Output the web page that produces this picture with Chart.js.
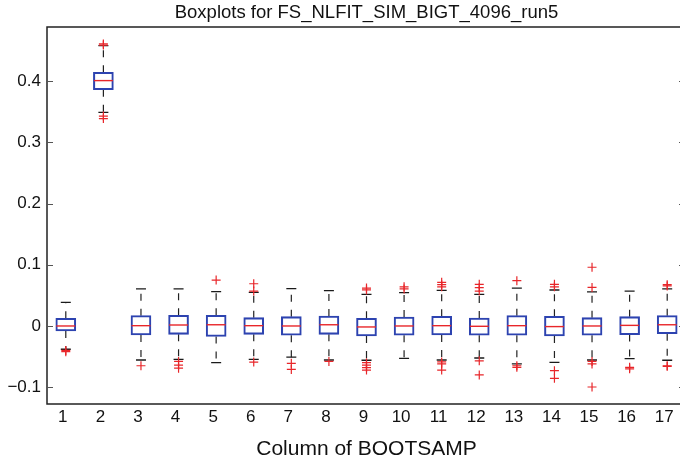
<!DOCTYPE html>
<html><head><meta charset="utf-8">
<script src="https://cdn.jsdelivr.net/npm/chart.js@4.4.1/dist/chart.umd.min.js"></script>
<style>
html,body{margin:0;padding:0;overflow:hidden;background:#fff;width:680px;height:461px}
#wrap{width:690px;height:461px;position:relative}
</style></head>
<body><div id="wrap"><canvas id="c" width="690" height="461"></canvas></div>
<script>
const categories = ['1','2','3','4','5','6','7','8','9','10','11','12','13','14','15','16','17'];
const q1Values     = [-0.0080, 0.3860, -0.0147, -0.0136, -0.0170, -0.0136, -0.0152, -0.0136, -0.0163, -0.0152, -0.0147, -0.0152, -0.0152, -0.0163, -0.0152, -0.0141, -0.0125];
const medianValues = [ 0.0000, 0.4010,  0.0005,  0.0016,  0.0020,  0.0005,  0.0000,  0.0020, -0.0016,  0.0000,  0.0005, -0.0005,  0.0005, -0.0010,  0.0000,  0.0010,  0.0020];
const q3Values     = [ 0.0126, 0.4145,  0.0169,  0.0175,  0.0175,  0.0136,  0.0152,  0.0163,  0.0126,  0.0147,  0.0158,  0.0131,  0.0169,  0.0158,  0.0136,  0.0152,  0.0169];
const whiskerLow   = [-0.0380, 0.3490, -0.0556, -0.0545, -0.0600, -0.0545, -0.0510, -0.0556, -0.0560, -0.0530, -0.0556, -0.0523, -0.0620, -0.0594, -0.0556, -0.0534, -0.0560];
const whiskerHigh  = [ 0.0387, 0.4580,  0.0605,  0.0605,  0.0560,  0.0550,  0.0610,  0.0577,  0.0518,  0.0545,  0.0583,  0.0518,  0.0620,  0.0588,  0.0556,  0.0570,  0.0605];
const outlierValues = [
  [-0.040, -0.042],
  [0.459, 0.461, 0.343, 0.339],
  [-0.065],
  [-0.058, -0.064, -0.069],
  [0.075],
  [0.069, 0.057, -0.059],
  [-0.061, -0.071],
  [-0.058],
  [0.062, 0.059, -0.060, -0.064, -0.068, -0.072],
  [0.064, 0.0605],
  [0.0713, 0.0675, 0.064, -0.0588, -0.062, -0.072],
  [0.068, 0.0626, 0.057, -0.057, -0.080],
  [0.074, -0.065, -0.0675],
  [0.068, 0.064, -0.073, -0.0855],
  [0.063, 0.096, -0.058, -0.062, -0.0997],
  [-0.0675, -0.070],
  [0.0654, 0.0675, -0.065, -0.066]
];
const yTickValues = [-0.1, 0, 0.1, 0.2, 0.3, 0.4];
const titleText = 'Boxplots for FS_NLFIT_SIM_BIGT_4096_run5';
const xTitle = 'Column of BOOTSAMP';

Chart.defaults.font.family = '"Liberation Sans", Arial, Helvetica, sans-serif';
Chart.defaults.color = '#111';

const whiskerData = [];
categories.forEach((c, i) => {
  whiskerData.push({x: c, y: q3Values[i]}, {x: c, y: whiskerHigh[i]}, {x: c, y: null});
  whiskerData.push({x: c, y: q1Values[i]}, {x: c, y: whiskerLow[i]}, {x: c, y: null});
});
const capData = [];
categories.forEach((c, i) => { capData.push({x: c, y: whiskerLow[i]}, {x: c, y: whiskerHigh[i]}); });
const outlierData = [];
categories.forEach((c, i) => outlierValues[i].forEach(v => outlierData.push({x: c, y: v})));

const frame = {
  id: 'frame',
  afterDraw(chart) {
    const {ctx, chartArea: a, scales: {y}} = chart;
    ctx.save();
    ctx.strokeStyle = '#222';
    ctx.lineWidth = 1.5;
    ctx.strokeRect(a.left, a.top, a.right - a.left, a.bottom - a.top);
    ctx.lineWidth = 1;
    ctx.beginPath();
    y.ticks.forEach((t, i) => {
      const py = Math.round(y.getPixelForTick(i)) + 0.5;
      ctx.moveTo(a.left, py); ctx.lineTo(a.left + 6, py);
      ctx.moveTo(a.right - 7, py); ctx.lineTo(a.right, py);
    });
    ctx.strokeStyle = '#555';
    ctx.stroke();
    ctx.restore();
  }
};

new Chart(document.getElementById('c'), {
  type: 'bar',
  data: {
    labels: categories,
    datasets: [
      { type: 'line', label: 'outliers', data: outlierData, showLine: false, pointStyle: 'cross',
        pointRadius: 4.5, pointBorderColor: '#e8262a', pointBorderWidth: 1.2, order: 0 },
      { type: 'line', label: 'caps', data: capData, showLine: false, pointStyle: 'line',
        pointRadius: 5, pointBorderColor: '#1a1a1a', pointBorderWidth: 1.3, order: 1 },
      { type: 'line', label: 'median', data: medianValues, showLine: false, pointStyle: 'line',
        pointRadius: 9.5, pointBorderColor: '#e8262a', pointBorderWidth: 1.4, order: 2 },
      { type: 'bar', label: 'box', data: categories.map((c, i) => [q1Values[i], q3Values[i]]),
        backgroundColor: 'rgba(0,0,0,0)', borderColor: '#2d43b0', borderWidth: 1.4, borderSkipped: false,
        barThickness: 20, grouped: false, order: 3 },
      { type: 'line', label: 'whiskers', data: whiskerData, spanGaps: false, pointRadius: 0,
        borderColor: '#222', borderWidth: 1.2, borderDash: [7, 8], fill: false, order: 4 }
    ]
  },
  options: {
    responsive: false,
    animation: false,
    events: [],
    layout: { autoPadding: false, padding: { left: 0, right: 4, top: 0, bottom: 0 } },
    plugins: {
      legend: { display: false },
      tooltip: { enabled: false },
      title: { display: true, text: titleText, fullSize: false, color: '#111',
        font: { size: 18.5, weight: 'normal' }, padding: { top: 1.5, bottom: 3.3 } }
    },
    scales: {
      x: {
        type: 'category', offset: true,
        grid: { display: false, drawTicks: false }, border: { display: false },
        ticks: { padding: 3, labelOffset: -3, maxRotation: 0, autoSkip: false, color: '#111', font: { size: 17 } },
        title: { display: true, text: xTitle, color: '#111', font: { size: 21 }, padding: { top: 0, bottom: -1 } },
        afterFit(s) { s.height = 57; s.paddingLeft = 0; s.paddingRight = 0; }
      },
      y: {
        min: -0.1275, max: 0.4886,
        grid: { display: false, drawTicks: false }, border: { display: false },
        afterBuildTicks(s) { s.ticks = yTickValues.map(v => ({ value: v })); },
        ticks: { padding: 6, color: '#111', font: { size: 17 },
          callback: v => (Math.round(v * 10) / 10).toString().replace('-', '\u2212') },
        afterFit(s) { s.width = 47; s.paddingTop = 0; s.paddingBottom = 0; }
      }
    }
  },
  plugins: [frame]
});
</script>
</body></html>
